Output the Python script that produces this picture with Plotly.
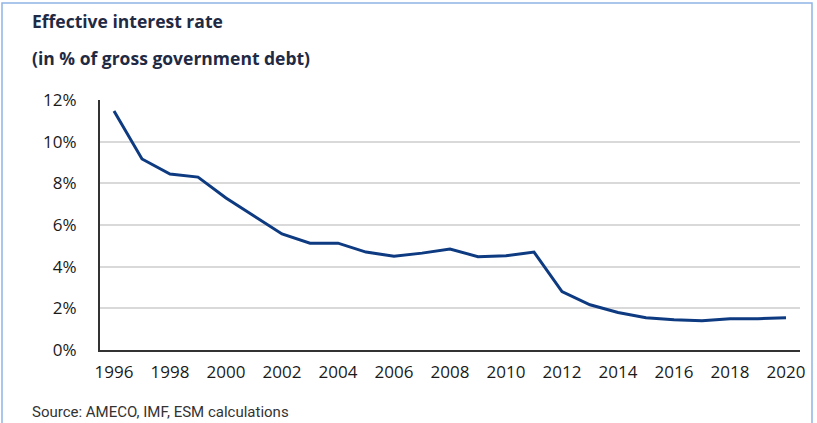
import plotly.graph_objects as go

years = list(range(1996, 2021))
rate = [11.47, 9.17, 8.45, 8.3, 7.3, 6.45, 5.57, 5.13, 5.13, 4.7, 4.5, 4.65, 4.85,
        4.48, 4.52, 4.7, 2.8, 2.17, 1.8, 1.55, 1.45, 1.4, 1.5, 1.5, 1.55]
ytick_vals = [0, 2, 4, 6, 8, 10, 12]
ytick_text = [f"{v}%" for v in ytick_vals]
xtick_vals = list(range(1996, 2021, 2))

fig = go.Figure()
fig.add_trace(go.Scatter(x=years, y=rate, mode="lines",
                         line=dict(color="#0d3a80", width=3), showlegend=False))

L, R, T, B = 100, 17, 100, 73
W, H = 817, 423
pw, ph = W - L - R, H - T - B

def px(x):
    return (x - L) / pw

def py(y):
    return (H - B - y) / ph

fig.update_layout(
    width=W, height=H,
    margin=dict(l=L, r=R, t=T, b=B),
    paper_bgcolor="white", plot_bgcolor="white",
    font=dict(family="Open Sans, Liberation Sans, sans-serif", color="#262626"),
    xaxis=dict(range=[1995.5, 2020.5], tickvals=xtick_vals, ticktext=[str(v) for v in xtick_vals],
               showgrid=False, showline=True, linecolor="#333", linewidth=2,
               ticks="", tickfont=dict(size=17, color="#1a1a1a"), fixedrange=True,
               ticklabelstandoff=6),
    yaxis=dict(range=[0, 12], tickvals=ytick_vals, ticktext=ytick_text,
               showgrid=True, gridcolor="#d9d9d9", gridwidth=1.5,
               showline=True, linecolor="#333", linewidth=2, zeroline=False,
               ticks="", tickfont=dict(size=17, color="#1a1a1a"), ticklabelstandoff=18),
    shapes=[dict(type="rect", xref="paper", yref="paper",
                 x0=px(2), x1=px(812), y0=py(424), y1=py(3),
                 line=dict(color="#8fb4e3", width=1.5), fillcolor="rgba(0,0,0,0)")],
    annotations=[
        dict(text="<b>Effective interest rate</b>", xref="paper", yref="paper",
             x=px(30), y=py(21), xanchor="left", yanchor="middle", showarrow=False,
             font=dict(size=17.5, color="#1f2a44", family="Open Sans, sans-serif")),
        dict(text="<b>(in % of gross government debt)</b>", xref="paper", yref="paper",
             x=px(30), y=py(58), xanchor="left", yanchor="middle", showarrow=False,
             font=dict(size=17.5, color="#1f2a44", family="Open Sans, sans-serif")),
        dict(text="Source: AMECO, IMF, ESM calculations", xref="paper", yref="paper",
             x=px(30), y=py(412), xanchor="left", yanchor="middle", showarrow=False,
             font=dict(size=15, color="#333", family="Roboto, sans-serif")),
    ],
)

fig.write_html("out.html")
